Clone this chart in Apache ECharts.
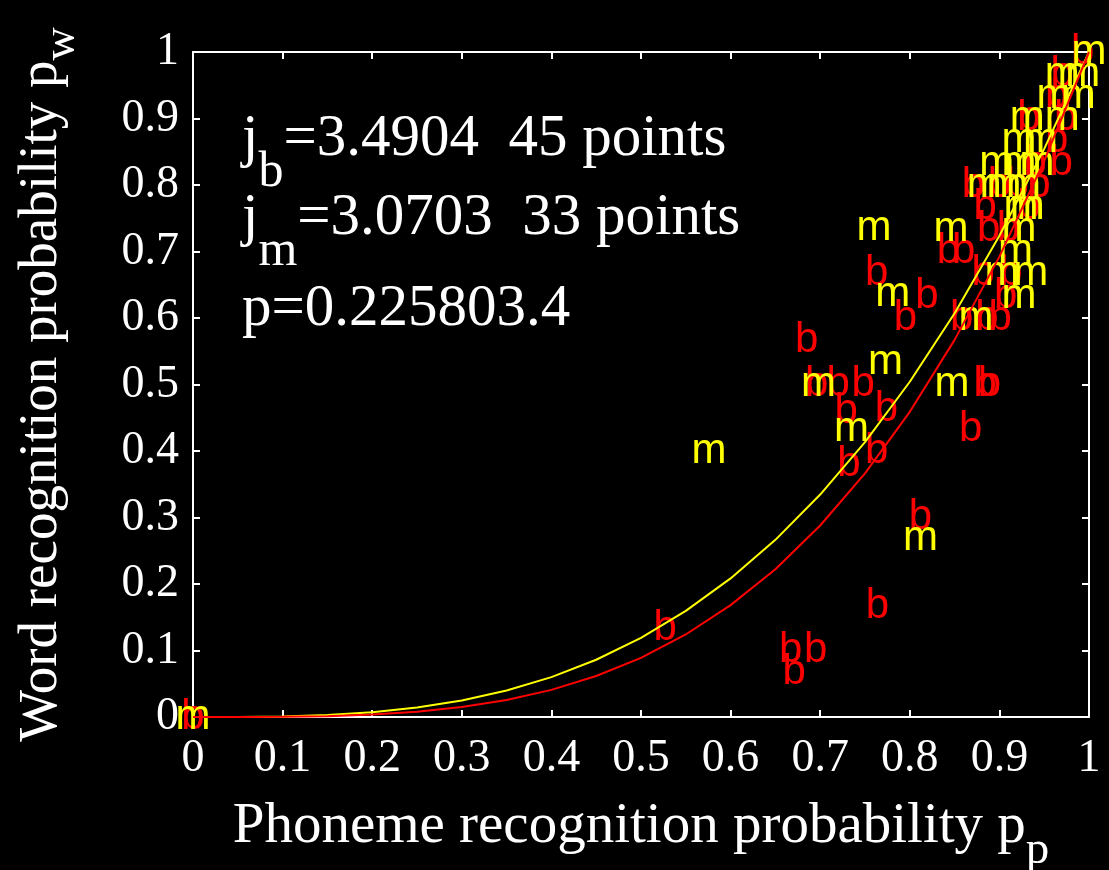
<!DOCTYPE html>
<html><head><meta charset="utf-8">
<script src="https://cdn.jsdelivr.net/npm/echarts@6/dist/echarts.min.js"></script>
<style>html,body{margin:0;padding:0;background:#000}#c{width:1109px;height:870px}</style>
</head><body><div id="c"></div>
<script>
const tickLabels = ['0','0.1','0.2','0.3','0.4','0.5','0.6','0.7','0.8','0.9','1'];
const curveX = [0,0.05,0.1,0.15,0.2,0.25,0.3,0.35,0.4,0.45,0.5,0.55,0.6,0.65,0.7,0.75,0.8,0.85,0.9,0.95,1];
const curveB = [0,0.0000,0.0003,0.0013,0.0036,0.0079,0.0150,0.0256,0.0408,0.0616,0.0890,0.1241,0.1682,0.2223,0.2880,0.3664,0.4589,0.5671,0.6923,0.8361,1];
const curveM = [0,0.0001,0.0009,0.0030,0.0071,0.0142,0.0248,0.0398,0.0600,0.0861,0.1190,0.1595,0.2084,0.2664,0.3345,0.4134,0.5041,0.6072,0.7236,0.8543,1];
const bPoints = [[0,0],[0.993,1.0],[0.527,0.133],[0.667,0.1],[0.695,0.1],[0.671,0.067],[0.764,0.167],[0.812,0.3],[0.763,0.667],[0.819,0.633],[0.795,0.6],[0.685,0.567],[0.696,0.5],[0.72,0.5],[0.748,0.5],[0.729,0.46],[0.774,0.463],[0.732,0.38],[0.763,0.4],[0.884,0.5],[0.889,0.5],[0.868,0.433],[0.858,0.6],[0.886,0.6],[0.901,0.6],[0.907,0.633],[0.843,0.7],[0.86,0.7],[0.888,0.733],[0.91,0.733],[0.882,0.667],[0.913,0.667],[0.871,0.8],[0.944,0.8],[0.884,0.767],[0.94,0.833],[0.969,0.833],[0.964,0.867],[0.974,0.9],[0.964,0.933],[0.97,0.967],[0.933,0.9],[0.9,0.8],[0.933,0.767],[0.92,0.8]];
const mPoints = [[0,0],[1,1],[0.576,0.4],[0.812,0.268],[0.76,0.735],[0.781,0.635],[0.698,0.5],[0.773,0.533],[0.735,0.433],[0.847,0.5],[0.874,0.6],[0.922,0.633],[0.846,0.733],[0.922,0.733],[0.918,0.7],[0.903,0.667],[0.935,0.667],[0.883,0.8],[0.905,0.8],[0.927,0.8],[0.924,0.767],[0.931,0.767],[0.897,0.833],[0.922,0.833],[0.942,0.833],[0.922,0.867],[0.946,0.867],[0.931,0.9],[0.97,0.9],[0.961,0.933],[0.988,0.933],[0.97,0.967],[0.993,0.967]];
const annotation = [
  ['j','b','=3.4904  45 points'],
  ['j','m','=3.0703  33 points'],
  ['p=0.225803.4','','']
];
const xTitle = 'Phoneme recognition probability p';
const xTitleSub = 'p';
const yTitle = 'Word recognition probability p';
const yTitleSub = 'w';

const SERIF = 'Liberation Serif, Times New Roman, serif';
const SANS = 'Liberation Sans, Arial, Helvetica, sans-serif';
const WHITE = '#ffffff';

function axisCommon(pos, showLabel, isX) {
  return {
    type: 'value', min: 0, max: 1, interval: 0.1, position: pos,
    axisLine: { show: true, onZero: false, lineStyle: { color: WHITE, width: 2 } },
    axisTick: { show: true, inside: true, length: 7, lineStyle: { color: WHITE, width: 2 } },
    splitLine: { show: false },
    axisLabel: {
      show: showLabel, color: WHITE, fontFamily: SERIF, fontSize: 46,
      margin: isX ? 19 : 14,
      formatter: function (v) { const i = Math.round(v * 10); return tickLabels[i]; }
    }
  };
}

const xMain = axisCommon('bottom', true, true);
xMain.name = xTitle + '{s|' + xTitleSub + '}';
xMain.nameLocation = 'middle';
xMain.nameGap = 64;
xMain.nameTextStyle = { color: WHITE, fontFamily: SERIF, fontSize: 57,
  rich: { s: { color: WHITE, fontFamily: SERIF, fontSize: 47, padding: [46, 0, 0, 0] } } };
const yMain = axisCommon('left', true, false);
yMain.name = yTitle + '{s|' + yTitleSub + '}';
yMain.nameLocation = 'middle';
yMain.nameGap = 108;
yMain.nameTextStyle = { color: WHITE, fontFamily: SERIF, fontSize: 55,
  rich: { s: { color: WHITE, fontFamily: SERIF, fontSize: 46, padding: [40, 0, 0, 0] } } };

function letterSeries(name, pts, color, letter) {
  return {
    name: name, type: 'scatter', data: pts, symbol: 'circle', symbolSize: 1,
    itemStyle: { color: 'rgba(0,0,0,0)', opacity: 1 }, z: 3, silent: true,
    label: { show: true, position: 'inside', formatter: letter, color: color, opacity: 1,
      fontFamily: SANS, fontSize: 42, offset: [0, 3] },
    emphasis: { disabled: true },
    labelLayout: { hideOverlap: false }
  };
}
function curveSeries(name, ys, color) {
  return {
    name: name, type: 'line', data: curveX.map((x, i) => [x, ys[i]]),
    symbol: 'none', smooth: false, z: 5, silent: true,
    lineStyle: { color: color, width: 2 }
  };
}

function annText(parts, top) {
  let t;
  if (parts[1]) t = '{n|' + parts[0] + '}{s|' + parts[1] + '}{n|' + parts[2] + '}';
  else t = '{n|' + parts[0] + '}';
  return {
    type: 'text', left: 242, top: top, z: 10, silent: true,
    style: {
      text: t, fill: WHITE,
      rich: {
        n: { fontFamily: SERIF, fontSize: 59, fill: WHITE },
        s: { fontFamily: SERIF, fontSize: 50, fill: WHITE, padding: [66, 0, 0, 0] }
      }
    }
  };
}

const chart = echarts.init(document.getElementById('c'), null, { renderer: 'canvas' });
chart.setOption({
  backgroundColor: '#000000',
  animation: false,
  grid: { left: 193, right: 20, top: 52, bottom: 153, containLabel: false, outerBoundsMode: 'none' },
  xAxis: [xMain, axisCommon('top', false, true)],
  yAxis: [yMain, axisCommon('right', false, false)],
  series: [
    letterSeries('b', bPoints, '#ff0000', 'b'),
    letterSeries('m', mPoints, '#ffff00', 'm'),
    curveSeries('fit m', curveM, '#ffff00'),
    curveSeries('fit b', curveB, '#ff0000')
  ],
  graphic: [
    annText(annotation[0], 110),
    annText(annotation[1], 189),
    annText(annotation[2], 280)
  ]
});
</script></body></html>
